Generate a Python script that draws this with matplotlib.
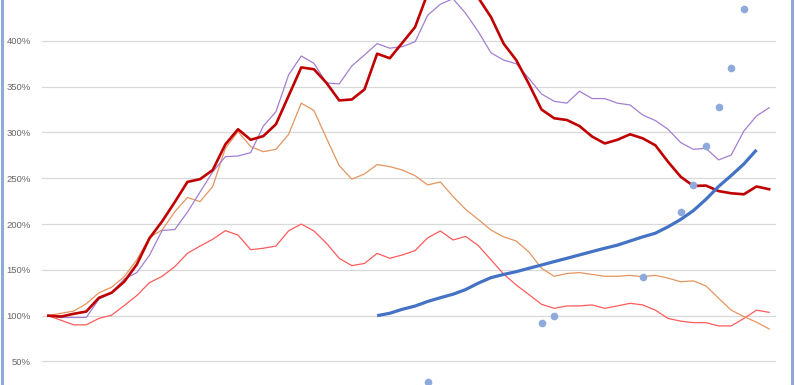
import matplotlib
matplotlib.use("Agg")
import matplotlib.pyplot as plt
from matplotlib.lines import Line2D
import numpy as np

# ---- data (index positions are category numbers 0..57) ----
dark_red = [100, 99, 102, 104.5, 119.5, 125, 137, 156, 184.5, 203,
            224, 246, 249, 259, 287, 303.5, 292, 296, 309, 340,
            371, 369, 354, 335, 336, 347, 386, 381, 398, 415,
            452, 468, 478, 470, 447, 426, 397, 379, 353, 325,
            315.5, 313.6, 307, 295.5, 288, 292, 298, 293.6, 286, 268,
            251.7, 241.6, 242, 236, 233.6, 232.5, 241, 238]

purple = [100, 98, 98, 98, 118, 125, 140, 147, 166, 193,
          194, 213, 235, 257, 273.6, 274.3, 278, 307, 322.7, 362.8,
          383.5, 375.5, 354, 353, 372.6, 384.6, 397, 392, 393.7, 399,
          428, 440, 446, 430, 410, 387, 379, 375, 359, 342,
          334, 332, 345, 337, 337, 332, 330, 319, 313, 303.5,
          289, 281.6, 282.7, 270, 275.4, 301.6, 318, 327]

orange = [100, 102.6, 105, 113, 125, 131, 142.5, 161, 185.6, 193.5,
          213.5, 229, 224.5, 241, 282.7, 301, 284.5, 279, 281.6, 298,
          332, 324, 293.6, 263.8, 249, 254.7, 265, 262.7, 259, 252.8,
          242.7, 246, 230, 216, 205, 193.5, 186, 181.5, 169.5, 151.7,
          143, 146, 147, 145, 143, 143, 144, 142.6, 144, 141,
          137, 138, 132.4, 119, 106, 99, 92.8, 85.5]

light_red = [100, 95, 90, 90, 97, 100.5, 111, 122, 136, 143,
             153.5, 168, 176, 183.4, 192.8, 188, 172, 173.6, 176, 192.6,
             200, 192.5, 179, 162.6, 154.6, 157, 168, 162.6, 166.3, 171,
             185, 192.5, 182.6, 186.5, 176.5, 161, 145.5, 133.5, 123, 112.4,
             108, 110.6, 110.6, 111.7, 108, 110.6, 113.5, 111.7, 106, 97,
             94, 92.4, 92.4, 88.8, 88.8, 97, 106, 103.6]

blue_start = 26
blue = [100, 102.6, 107, 110.5, 115.5, 119.6, 123.4, 128.5, 135.5, 141.5,
        145, 148, 151.7, 155.3, 159, 162.6, 166.3, 170, 173.6, 177,
        181.5, 186, 190, 197, 205, 214.6, 227, 241, 253, 265.6, 281]

dot_idx = [30, 39, 40, 47, 50, 51, 52, 53, 54, 55]
dot_val = [27.4, 92.4, 100, 142, 213.7, 242.5, 285, 328, 370.8, 435]

y_ticks = [50, 100, 150, 200, 250, 300, 350, 400]
y_tick_labels = [f"{v}%" for v in y_ticks]

# ---- figure ----
W, H = 795, 385
fig = plt.figure(figsize=(W / 100, H / 100), dpi=100)
fig.patch.set_facecolor("white")
left_px, right_px = 42, 775.5
ax = fig.add_axes([left_px / W, 0, (right_px - left_px) / W, 1])
ax.set_facecolor("white")

n = len(dark_red)
x = np.arange(n)

ax.set_xlim(-0.5, n - 0.5)
ax.set_ylim(24.3, 444.6)

for v in y_ticks:
    ax.axhline(v, color="#D9D9D9", lw=0.9, zorder=0)

ax.plot(x, light_red, color="#FF5B5B", lw=0.9, zorder=2)
ax.plot(x, orange, color="#E4955F", lw=0.9, zorder=2)
ax.plot(x, purple, color="#A47ED2", lw=0.9, zorder=2)
ax.plot(x, dark_red, color="#C00000", lw=1.9, zorder=3)
bx = np.arange(blue_start, blue_start + len(blue))
ax.plot(bx, blue, color="#4472C4", lw=2.3, zorder=4, solid_capstyle="butt")
ax.plot(dot_idx, dot_val, linestyle="none", marker="o", ms=5.5,
        color="#8EA9DB", markeredgewidth=0, zorder=5)

ax.set_yticks(y_ticks)
ax.set_yticklabels(y_tick_labels, fontsize=6.8, color="#666666",
                   family="Liberation Sans")
ax.tick_params(axis="y", length=0, pad=8)
ax.set_xticks([])
for s in ax.spines.values():
    s.set_visible(False)

# chart frame borders (left and right edges)
fig.add_artist(Line2D([2 / W, 2 / W], [0, 1], color="#8EA9DB", lw=2.2,
                      transform=fig.transFigure))
fig.add_artist(Line2D([792 / W, 792 / W], [0, 1], color="#8EA9DB", lw=2.2,
                      transform=fig.transFigure))

fig.savefig("out.png", dpi=100, facecolor="white")
